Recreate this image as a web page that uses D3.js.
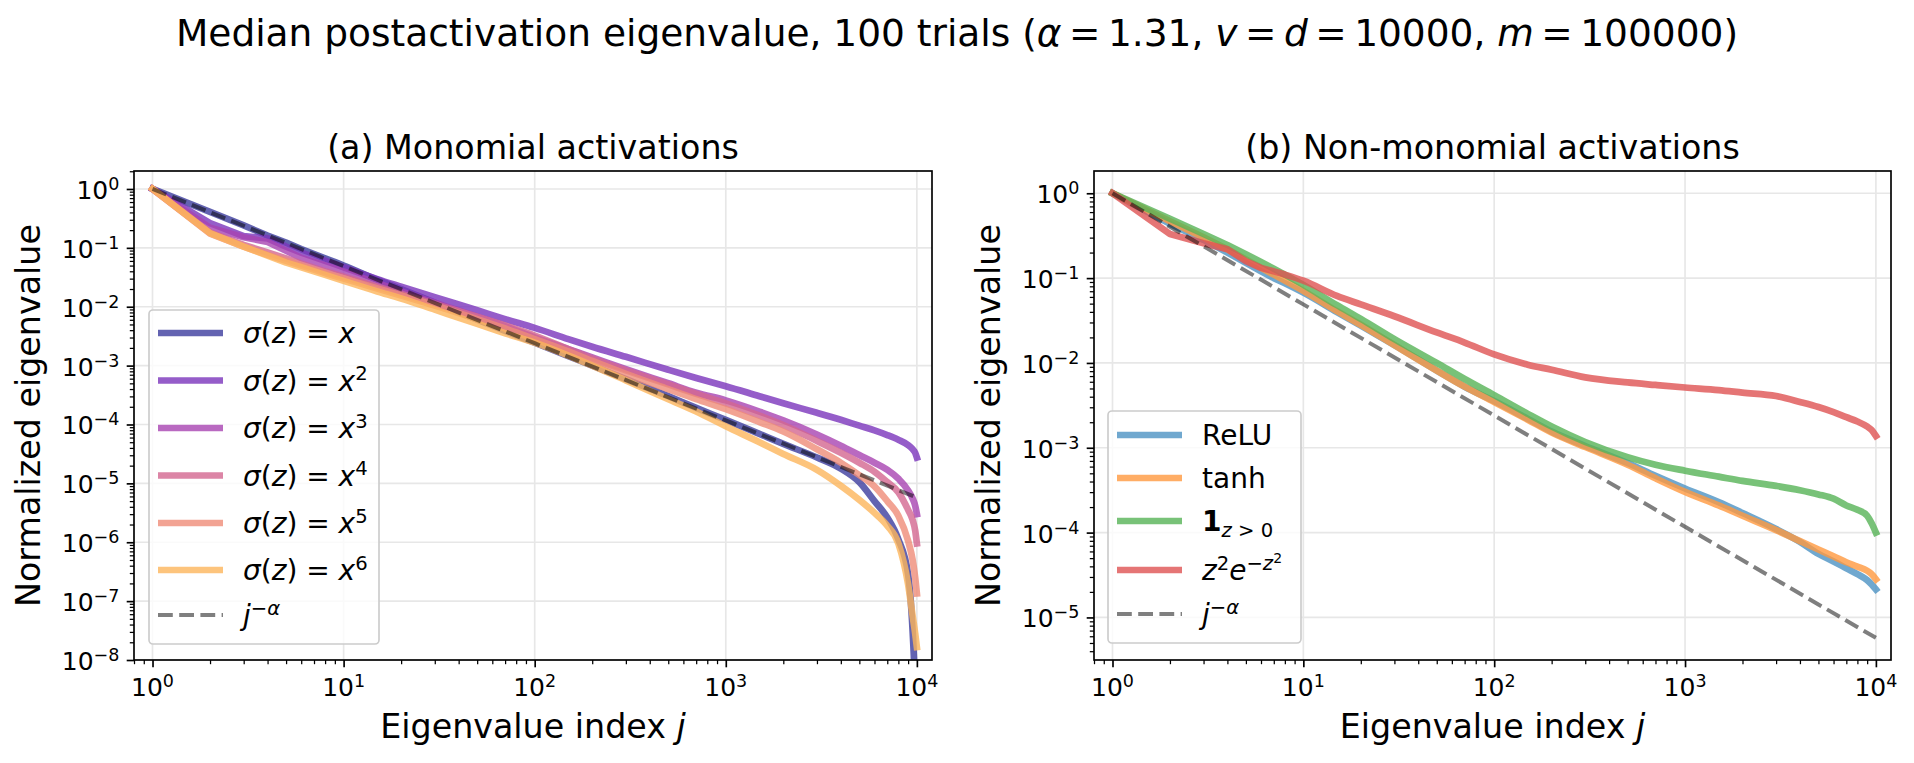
<!DOCTYPE html>
<html>
<head>
<meta charset="utf-8">
<script src="https://cdn.jsdelivr.net/npm/d3@7"></script>
<style>
  body { margin: 0; background: #fff; }
  svg { display: block; }
  text { font-family: "DejaVu Sans", sans-serif; white-space: pre; }
</style>
</head>
<body>
<div id="chart"></div>
<script>
// Median postactivation eigenvalue spectra, two panels on log-log axes

// eigenvalue index grids (x values)
const jLeft  = [1, 2, 3, 4, 5, 6, 8, 10, 15, 20, 30, 50, 70, 100, 150, 200, 300, 500, 700,
                1000, 1500, 2000, 3000, 4000, 5000, 6000, 7000, 8000, 9000, 9500, 9800, 10000];
const jRight = [1, 2, 3, 4, 5, 6, 7, 8, 10, 15, 20, 30, 50, 70, 100, 150, 200, 300, 500, 700,
                1000, 1500, 2000, 3000, 4000, 5000, 6000, 7000, 8000, 9000, 9500, 10000];

// (a) monomial activations
const monoX1 = [1, 0.407, 0.240, 0.162, 0.123, 0.0955, 0.0661, 0.0501, 0.0288, 0.0200, 0.0117,
                6.03e-3, 3.89e-3, 2.45e-3, 1.45e-3, 1.0e-3, 5.89e-4, 3.02e-4, 1.91e-4, 1.20e-4,
                6.92e-5, 4.68e-5, 2.75e-5, 1.78e-5, 1.05e-5, 5.0e-6, 2.63e-6, 1.12e-6, 2.82e-7,
                3.16e-8, 3.16e-9, 3.16e-10];
const monoX2 = [1, 0.263, 0.158, 0.145, 0.105, 0.0832, 0.0603, 0.0468, 0.0295, 0.0219, 0.0145,
                8.71e-3, 6.17e-3, 4.37e-3, 2.82e-3, 2.09e-3, 1.41e-3, 8.51e-4, 6.17e-4, 4.47e-4,
                3.02e-4, 2.29e-4, 1.58e-4, 1.20e-4, 9.55e-5, 7.94e-5, 6.61e-5, 5.50e-5, 4.47e-5,
                3.80e-5, 3.31e-5, 2.75e-5];
const monoX3 = [1, 0.219, 0.151, 0.126, 0.0891, 0.0676, 0.0501, 0.0398, 0.0251, 0.0182, 0.0117,
                6.76e-3, 4.68e-3, 3.02e-3, 1.91e-3, 1.38e-3, 8.71e-4, 5.01e-4, 3.47e-4, 2.57e-4,
                1.66e-4, 1.17e-4, 6.76e-5, 4.37e-5, 3.02e-5, 2.24e-5, 1.70e-5, 1.20e-5, 7.59e-6,
                5.50e-6, 4.17e-6, 3.02e-6];
const monoX4 = [1, 0.182, 0.112, 0.0832, 0.0661, 0.0537, 0.0398, 0.0324, 0.0219, 0.0166, 0.0112,
                6.76e-3, 4.79e-3, 3.24e-3, 1.91e-3, 1.32e-3, 8.32e-4, 4.79e-4, 3.31e-4, 2.29e-4,
                1.41e-4, 9.77e-5, 5.25e-5, 3.31e-5, 2.24e-5, 1.58e-5, 1.05e-5, 7.08e-6, 3.55e-6,
                2.40e-6, 1.58e-6, 9.55e-7];
const monoX5 = [1, 0.174, 0.105, 0.0759, 0.0603, 0.0501, 0.0372, 0.0302, 0.0204, 0.0155, 0.0105,
                6.17e-3, 4.27e-3, 2.82e-3, 1.74e-3, 1.20e-3, 7.24e-4, 3.98e-4, 2.69e-4, 1.82e-4,
                1.10e-4, 7.59e-5, 3.80e-5, 2.24e-5, 1.38e-5, 8.91e-6, 5.01e-6, 2.82e-6, 1.05e-6,
                5.01e-7, 2.51e-7, 1.35e-7];
const monoX6 = [1, 0.178, 0.105, 0.0741, 0.0562, 0.0468, 0.0347, 0.0275, 0.0182, 0.0138, 8.91e-3,
                5.13e-3, 3.55e-3, 2.45e-3, 1.48e-3, 1.0e-3, 5.62e-4, 2.69e-4, 1.66e-4, 9.33e-5,
                5.01e-5, 3.16e-5, 1.70e-5, 9.12e-6, 5.25e-6, 3.16e-6, 1.91e-6, 9.55e-7, 1.91e-7,
                5.62e-8, 2.82e-8, 1.66e-8];

// (b) non-monomial activations
const reluVals = [1, 0.437, 0.282, 0.200, 0.151, 0.120, 0.100, 0.0871, 0.0676, 0.0398, 0.0275,
                  0.0162, 8.13e-3, 5.25e-3, 3.55e-3, 2.19e-3, 1.55e-3, 1.05e-3, 6.61e-4, 4.68e-4,
                  3.31e-4, 2.29e-4, 1.70e-4, 1.10e-4, 7.76e-5, 5.62e-5, 4.57e-5, 3.80e-5, 3.24e-5,
                  2.75e-5, 2.45e-5, 2.14e-5];
const tanhVals = [1, 0.468, 0.302, 0.219, 0.166, 0.132, 0.110, 0.0933, 0.0708, 0.0407, 0.0282,
                  0.0162, 8.13e-3, 5.25e-3, 3.47e-3, 2.14e-3, 1.51e-3, 1.02e-3, 6.31e-4, 4.37e-4,
                  3.02e-4, 2.09e-4, 1.58e-4, 1.07e-4, 7.94e-5, 6.31e-5, 5.25e-5, 4.47e-5, 3.98e-5,
                  3.55e-5, 3.24e-5, 2.82e-5];
const stepVals = [1, 0.501, 0.331, 0.245, 0.191, 0.155, 0.129, 0.110, 0.0832, 0.0479, 0.0331,
                  0.0191, 0.0100, 6.46e-3, 4.17e-3, 2.51e-3, 1.78e-3, 1.17e-3, 7.76e-4, 6.31e-4,
                  5.37e-4, 4.57e-4, 4.07e-4, 3.55e-4, 3.16e-4, 2.82e-4, 2.51e-4, 2.09e-4, 1.86e-4,
                  1.58e-4, 1.29e-4, 1.0e-4];
const gaussVals = [1, 0.331, 0.257, 0.219, 0.158, 0.132, 0.120, 0.110, 0.0933, 0.0617, 0.0490,
                   0.0355, 0.0229, 0.0174, 0.0126, 9.55e-3, 8.32e-3, 6.76e-3, 5.89e-3, 5.50e-3,
                   5.13e-3, 4.79e-3, 4.47e-3, 4.07e-3, 3.47e-3, 3.02e-3, 2.63e-3, 2.29e-3, 2.04e-3,
                   1.78e-3, 1.62e-3, 1.38e-3];

// reference power law j^-alpha (alpha = 1.31)
const jRef   = [1, 10, 100, 1000, 10000];
const refVals = [1, 0.049, 2.4e-3, 1.17e-4, 5.75e-6];

// tick values
const xTicks = [1, 10, 100, 1000, 10000];
const yTicksLeft  = [1, 1e-1, 1e-2, 1e-3, 1e-4, 1e-5, 1e-6, 1e-7, 1e-8];
const yTicksRight = [1, 1e-1, 1e-2, 1e-3, 1e-4, 1e-5];

// colours
const monoColors = ["#3c3c9e", "#7b35bb", "#a844b2", "#d36690", "#ef8c78", "#fdb55b"];
const nonColors  = ["#4c92c3", "#ff993e", "#56b356", "#de5253"];

const W = 1914, H = 763;
const FS_TICK = 25, FS_LEG = 28, FS_LAB = 33.3, FS_TITLE = 37.5;
const EQ = "\u2009=\u2009";

const svg = d3.select("#chart").append("svg")
  .attr("width", W).attr("height", H);

// rich text with italic / bold / super- and subscripts, like mathtext
function rich(textSel, parts, size) {
  let cur = 0;
  parts.forEach(p => {
    const lvl = p.l || 0;
    let off = 0, fs = size;
    if (lvl === 1) { off = -0.36 * size; fs = 0.7 * size; }
    if (lvl === 2) { off = -0.36 * size - 0.26 * size; fs = 0.5 * size; }
    if (lvl === -1) { off = 0.2 * size; fs = 0.7 * size; }
    textSel.append("tspan")
      .attr("dy", off - cur)
      .style("font-size", fs + "px")
      .style("font-style", p.i ? "italic" : "normal")
      .style("font-weight", p.b ? "bold" : "normal")
      .text(p.t);
    cur = off;
  });
  return textSel;
}

function expLabel(v) {
  const e = Math.round(Math.log10(v));
  return [{ t: "10" }, { t: (e < 0 ? "\u2212" : "") + Math.abs(e), l: 1 }];
}

// Suptitle
rich(svg.append("text")
  .attr("x", W / 2).attr("y", 46)
  .attr("text-anchor", "middle")
  .style("fill", "#000"),
  [{ t: "Median postactivation eigenvalue, 100 trials (" }, { t: "α", i: true },
   { t: EQ + "1.31, " }, { t: "v", i: true }, { t: EQ }, { t: "d", i: true },
   { t: EQ + "10000, " }, { t: "m", i: true }, { t: EQ + "100000)" }], FS_TITLE);

function panel(opt) {
  const { x0, x1, y0, y1, yDomain, yTicks, id } = opt;

  const x = d3.scaleLog().domain([0.8, 12000]).range([x0, x1]);
  const y = d3.scaleLog().domain(yDomain).range([y1, y0]);

  const g = svg.append("g");

  svg.append("clipPath").attr("id", "clip-" + id)
    .append("rect")
    .attr("x", x0).attr("y", y0)
    .attr("width", x1 - x0).attr("height", y1 - y0);

  // gridlines at major ticks
  const grid = g.append("g");
  xTicks.forEach(t => {
    grid.append("line")
      .attr("x1", x(t)).attr("x2", x(t))
      .attr("y1", y0).attr("y2", y1)
      .attr("stroke", "#e7e7e7").attr("stroke-width", 1.67);
  });
  yTicks.forEach(t => {
    grid.append("line")
      .attr("x1", x0).attr("x2", x1)
      .attr("y1", y(t)).attr("y2", y(t))
      .attr("stroke", "#e7e7e7").attr("stroke-width", 1.67);
  });

  // curves: straight segments between the first integer indices, smooth beyond
  const linGen = d3.line().x(d => x(d[0])).y(d => y(d[1]));
  const smoothGen = d3.line().x(d => x(d[0])).y(d => y(d[1])).curve(d3.curveMonotoneX);
  const pathFor = pts => {
    const head = pts.filter(d => d[0] <= 8);
    const tail = pts.filter(d => d[0] >= 8);
    if (head.length < 2 || tail.length < 2) return linGen(pts);
    return linGen(head) + smoothGen(tail).replace(/^M/, "L");
  };

  const plot = g.append("g").attr("clip-path", `url(#clip-${id})`);
  opt.series.forEach(s => {
    plot.append("path")
      .datum(s.xs.map((v, i) => [v, s.ys[i]]))
      .attr("d", pathFor)
      .attr("fill", "none")
      .attr("stroke", s.color)
      .attr("stroke-opacity", s.dash ? 0.5 : 0.8)
      .attr("stroke-width", s.dash ? 4 : 6.7)
      .attr("stroke-linecap", s.dash ? "butt" : "square")
      .attr("stroke-linejoin", "round")
      .attr("stroke-dasharray", s.dash ? "14.8,6.4" : null);
  });

  // axes (d3 log axes, restyled like matplotlib)
  const xMinor = [];
  for (let e = -1; e <= 4; e++) for (let k = 2; k <= 9; k++) {
    const v = k * Math.pow(10, e);
    if (v >= 0.8 && v <= 12000) xMinor.push(v);
  }
  const yMinor = [];
  for (let e = -9; e <= 0; e++) for (let k = 2; k <= 9; k++) {
    const v = k * Math.pow(10, e);
    if (v >= yDomain[0] * 0.999 && v <= yDomain[1] * 1.001) yMinor.push(v);
  }

  const styleAxis = sel => {
    sel.select(".domain").remove();
    sel.selectAll("text").remove();
    sel.selectAll("line").attr("stroke", "#000");
  };

  g.append("g").attr("transform", `translate(0,${y1})`)
    .call(d3.axisBottom(x).tickValues(xMinor).tickSize(4.2))
    .call(styleAxis)
    .selectAll("line").attr("stroke-width", 1.25);
  g.append("g").attr("transform", `translate(0,${y1})`)
    .call(d3.axisBottom(x).tickValues(xTicks).tickSize(7.3))
    .call(styleAxis)
    .selectAll("line").attr("stroke-width", 1.67);
  g.append("g").attr("transform", `translate(${x0},0)`)
    .call(d3.axisLeft(y).tickValues(yMinor).tickSize(4.2))
    .call(styleAxis)
    .selectAll("line").attr("stroke-width", 1.25);
  g.append("g").attr("transform", `translate(${x0},0)`)
    .call(d3.axisLeft(y).tickValues(yTicks).tickSize(7.3))
    .call(styleAxis)
    .selectAll("line").attr("stroke-width", 1.67);

  // tick labels
  xTicks.forEach(t => {
    rich(g.append("text").attr("x", x(t)).attr("y", 696)
      .attr("text-anchor", "middle"), expLabel(t), FS_TICK);
  });
  yTicks.forEach(t => {
    rich(g.append("text").attr("x", x0 - 14.6).attr("y", y(t) + 10)
      .attr("text-anchor", "end"), expLabel(t), FS_TICK);
  });

  // spines
  g.append("rect")
    .attr("x", x0).attr("y", y0)
    .attr("width", x1 - x0).attr("height", y1 - y0)
    .attr("fill", "none").attr("stroke", "#000").attr("stroke-width", 1.67);

  // titles and axis labels
  g.append("text")
    .attr("x", (x0 + x1) / 2).attr("y", y0 - 12.5)
    .attr("text-anchor", "middle")
    .style("font-size", FS_LAB + "px")
    .text(opt.title);

  rich(g.append("text")
    .attr("x", (x0 + x1) / 2).attr("y", 738)
    .attr("text-anchor", "middle"),
    [{ t: "Eigenvalue index " }, { t: "j", i: true }], FS_LAB);

  g.append("text")
    .attr("transform", `translate(${x0 - 94},${(y0 + y1) / 2}) rotate(-90)`)
    .attr("text-anchor", "middle")
    .style("font-size", FS_LAB + "px")
    .text("Normalized eigenvalue");

  // legend
  const L = opt.legend;
  const lg = g.append("g");
  lg.append("rect")
    .attr("x", L.x).attr("y", L.y)
    .attr("width", L.w).attr("height", L.h)
    .attr("rx", 4)
    .attr("fill", "#fff").attr("fill-opacity", 0.8)
    .attr("stroke", "#cccccc").attr("stroke-width", 1.67);
  L.items.forEach((it, i) => {
    const ry = L.rows[i];
    lg.append("line")
      .attr("x1", L.x + 9).attr("x2", L.x + 74)
      .attr("y1", ry).attr("y2", ry)
      .attr("stroke", it.color)
      .attr("stroke-opacity", it.dash ? 0.5 : 0.8)
      .attr("stroke-width", it.dash ? 4 : 6.7)
      .attr("stroke-dasharray", it.dash ? "14.8,6.4" : null);
    rich(lg.append("text").attr("x", L.x + 94).attr("y", ry + 10), it.label, FS_LEG);
  });
}

const sig = k => {
  const p = [{ t: "σ", i: true }, { t: "(" }, { t: "z", i: true }, { t: ")" }, { t: " = " }, { t: "x", i: true }];
  if (k > 1) p.push({ t: String(k), l: 1 });
  return p;
};
const jAlpha = [{ t: "j", i: true }, { t: "\u2212", l: 1 }, { t: "α", i: true, l: 1 }];

const monoData = [monoX1, monoX2, monoX3, monoX4, monoX5, monoX6];

panel({
  id: "a",
  x0: 134, x1: 932, y0: 171, y1: 660,
  yDomain: [1e-8, 2.02],
  yTicks: yTicksLeft,
  title: "(a) Monomial activations",
  series: monoData.map((ys, i) => ({ xs: jLeft, ys, color: monoColors[i] }))
    .concat([{ xs: jRef, ys: refVals, color: "#000", dash: true }]),
  legend: {
    x: 149, y: 310, w: 230, h: 334,
    rows: [333, 380.5, 428, 475.5, 523, 570, 615],
    items: monoColors.map((c, i) => ({ color: c, label: sig(i + 1) }))
      .concat([{ color: "#000", dash: true, label: jAlpha }])
  }
});

panel({
  id: "b",
  x0: 1094, x1: 1891, y0: 171, y1: 660,
  yDomain: [3.15e-6, 1.83],
  yTicks: yTicksRight,
  title: "(b) Non-monomial activations",
  series: [reluVals, tanhVals, stepVals, gaussVals]
    .map((ys, i) => ({ xs: jRight, ys, color: nonColors[i] }))
    .concat([{ xs: jRef, ys: refVals, color: "#000", dash: true }]),
  legend: {
    x: 1108, y: 411, w: 193, h: 232,
    rows: [435, 478, 521, 570, 614],
    items: [
      { color: nonColors[0], label: [{ t: "ReLU" }] },
      { color: nonColors[1], label: [{ t: "tanh" }] },
      { color: nonColors[2], label: [{ t: "1", b: true }, { t: "z", i: true, l: -1 }, { t: " > 0", l: -1 }] },
      { color: nonColors[3], label: [{ t: "z", i: true }, { t: "2", l: 1 }, { t: "e", i: true },
                                     { t: "\u2212", l: 1 }, { t: "z", i: true, l: 1 }, { t: "2", l: 2 }] },
      { color: "#000", dash: true, label: jAlpha }
    ]
  }
});
</script>
</body>
</html>
